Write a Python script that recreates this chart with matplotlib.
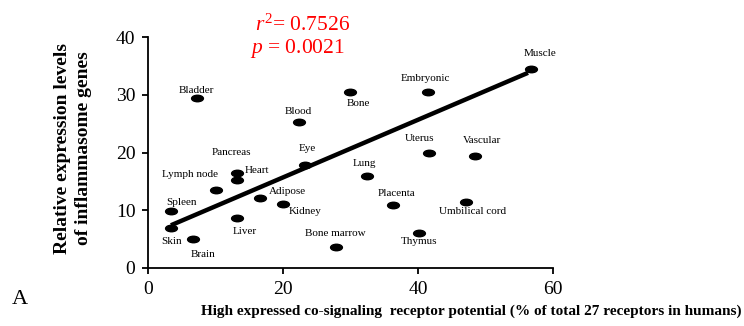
import numpy as np
import matplotlib
matplotlib.use("Agg")
import matplotlib.pyplot as plt
from matplotlib.path import Path
from matplotlib.transforms import Affine2D

plt.rcParams['font.family'] = ['Liberation Serif', 'DejaVu Serif']
plt.rcParams['mathtext.fontset'] = 'custom'
plt.rcParams['mathtext.rm'] = 'Liberation Serif'
plt.rcParams['mathtext.it'] = 'Liberation Serif:italic'

# tissues: x = % of 27 co-signaling receptors highly expressed, y = relative expression
tissues = ["Muscle", "Embryonic", "Bone", "Bladder", "Blood", "Uterus", "Vascular",
           "Eye", "Heart", "Pancreas", "Lung", "Lymph node", "Adipose", "Kidney",
           "Placenta", "Umbilical cord", "Spleen", "Liver", "Skin", "Thymus",
           "Brain", "Bone marrow"]
receptor_pct = [56.7, 41.5, 30.0, 7.2, 22.3, 41.7, 48.4,
                23.3, 13.2, 13.2, 32.5, 10.1, 16.6, 20.0,
                36.3, 47.1, 3.4, 13.2, 3.4, 40.2,
                6.7, 27.9]
expression = [34.5, 30.4, 30.4, 29.4, 25.2, 20.0, 19.4,
              17.8, 16.5, 15.3, 15.9, 13.5, 12.2, 11.1,
              10.9, 11.4, 9.9, 8.6, 6.9, 6.0,
              5.0, 3.7]

# trend line end points
fit_x = [3.4, 56.3]
fit_y = [7.4, 33.8]

r2_text = "0.7526"
p_text = "0.0021"

# label offsets in pixels (dx, dy) from the dot
offsets = {
    "Muscle": (9, 15), "Embryonic": (-3, 14), "Bone": (8, -11), "Bladder": (0, 8),
    "Blood": (0, 11), "Uterus": (-10, 14), "Vascular": (7, 15), "Eye": (2, 17),
    "Heart": (20, 2), "Pancreas": (-6, 27), "Lung": (-3, 13), "Lymph node": (-26, 16),
    "Adipose": (27, 6), "Kidney": (22, -8), "Placenta": (3, 12),
    "Umbilical cord": (7, -9), "Spleen": (11, 8), "Liver": (8, -13), "Skin": (1, -13),
    "Thymus": (0, -8), "Brain": (10, -15), "Bone marrow": (-1, 13),
}

fig = plt.figure(figsize=(7.44, 3.26), dpi=100)
ax = fig.add_axes([148/744, 1 - 268/326, 405/744, 231/326])

ellipse = Path.unit_circle().transformed(Affine2D().scale(1.0, 0.55))
ax.plot(receptor_pct, expression, linestyle='none', marker=ellipse,
        markersize=8.5, color='black', zorder=3)
ax.plot(fit_x, fit_y, color='black', lw=3.2, solid_capstyle='butt', zorder=2)

for name, xv, yv in zip(tissues, receptor_pct, expression):
    dx, dy = offsets[name]
    ax.annotate(name, (xv, yv), xytext=(dx, dy), textcoords='offset pixels',
                ha='center', va='center', fontsize=8)

ax.set_xlim(0, 60)
ax.set_ylim(0, 40)
ax.set_xticks([0, 20, 40, 60])
ax.set_yticks([0, 10, 20, 30, 40])
for s in ['top', 'right']:
    ax.spines[s].set_visible(False)
for s in ['left', 'bottom']:
    ax.spines[s].set_linewidth(1.3)
ax.tick_params(direction='out', length=4, width=1.3, labelsize=14, pad=5)

fig.text(63/744, 1 - 148/326, "Relative expression levels", rotation=90,
         ha='center', va='center', fontsize=14, fontweight='bold')
fig.text(83/744, 1 - 148/326, "of inflammasome genes", rotation=90,
         ha='center', va='center', fontsize=14, fontweight='bold')
fig.text(471/744, 1 - 311/326,
         "High expressed co-signaling  receptor potential (% of total 27 receptors in humans)",
         ha='center', va='center', fontsize=11, fontweight='bold')
fig.text(12/744, 1 - 300/326, "A", ha='left', va='center', fontsize=16)

fig.text(255/744, 1 - 25/326, "$r^2$= " + r2_text, ha='left', va='center',
         fontsize=15.5, color='red')
fig.text(250/744, 1 - 48/326, "$p$ = " + p_text, ha='left', va='center',
         fontsize=15.5, color='red')

fig.savefig("out.png", dpi=100)
